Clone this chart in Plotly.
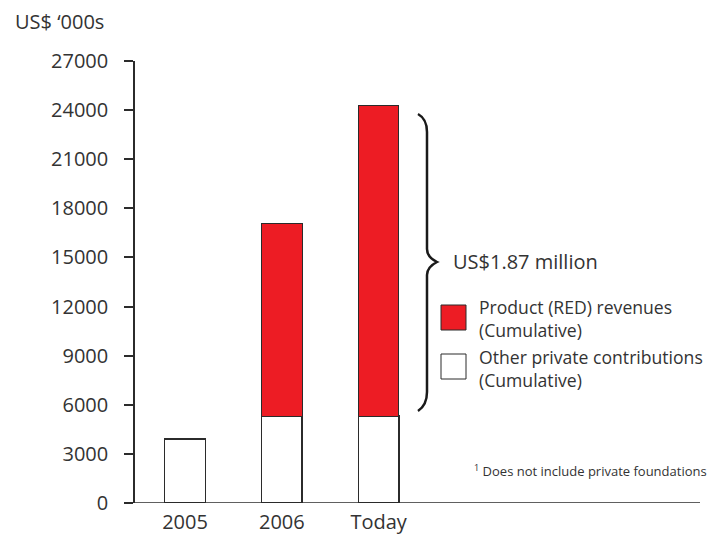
import plotly.graph_objects as go

categories = ["2005", "2006", "Today"]
other_private = [3900, 5300, 5300]
red_revenues = [None, 11800, 19000]
y_ticks = [0, 3000, 6000, 9000, 12000, 15000, 18000, 21000, 24000, 27000]

W, H = 723, 538
ML, MR, MT, MB = 135, 23, 61, 35
PW, PH = W - ML - MR, H - MT - MB

def px(x):
    return (x - ML) / PW

def py(y):
    return (H - MB - y) / PH

FONT = "Open Sans"
TXT = "#333333"
EDGE = "#2b2b2b"
RED = "#ED1C24"

xpos = list(range(len(categories)))

fig = go.Figure()
fig.add_trace(go.Bar(x=xpos, y=other_private, width=0.42,
                     marker=dict(color="white", line=dict(color=EDGE, width=1.5)),
                     showlegend=False))
fig.add_trace(go.Bar(x=xpos, y=red_revenues, width=0.42,
                     marker=dict(color=RED, line=dict(color=EDGE, width=1)),
                     showlegend=False))

# brace path in pixel space -> paper
pts = [("M", [(418, 114)]), ("Q", [(427, 119), (427, 132)]), ("L", [(427, 249)]),
       ("Q", [(427, 257), (437, 262)]), ("Q", [(427, 267), (427, 275)]),
       ("L", [(427, 392)]), ("Q", [(427, 405), (418, 411)])]
path = ""
for cmd, cs in pts:
    path += cmd + " " + " ".join(f"{px(a):.5f},{py(b):.5f}" for a, b in cs) + " "

shapes = [
    dict(type="path", xref="paper", yref="paper", path=path,
         line=dict(color="#1a1a1a", width=2.5)),
    # x axis baseline
    dict(type="line", xref="paper", yref="y", x0=px(126), x1=1, y0=0, y1=0,
         line=dict(color=EDGE, width=1.5)),
    # legend squares
    dict(type="rect", xref="paper", yref="paper", x0=px(441), x1=px(466),
         y0=py(330), y1=py(305), fillcolor=RED, line=dict(color=EDGE, width=1)),
    dict(type="rect", xref="paper", yref="paper", x0=px(441), x1=px(466),
         y0=py(379), y1=py(354), fillcolor="white", line=dict(color=EDGE, width=1)),
]

def ann(text, x, y, size, xanchor="left"):
    return dict(text=text, xref="paper", yref="paper", x=px(x), y=py(y),
                xanchor=xanchor, yanchor="middle", align="left", showarrow=False,
                font=dict(family=FONT, size=size, color=TXT))

annotations = [
    ann("US$ ‘000s", 13, 21, 20),
    ann("US$1.87 million", 451, 261, 20),
    ann("Product (RED) revenues<br>(Cumulative)", 477, 319, 17.6),
    ann("Other private contributions<br>(Cumulative)", 477, 368, 17.6),
    ann("<sup>1</sup> Does not include private foundations", 472, 470, 13),
]

fig.update_layout(
    width=W, height=H,
    margin=dict(l=ML, r=MR, t=MT, b=MB),
    paper_bgcolor="white", plot_bgcolor="white",
    barmode="stack",
    shapes=shapes, annotations=annotations,
    font=dict(family=FONT, color=TXT),
    xaxis=dict(range=[-0.517, -0.517 + PW / 96.8], tickvals=xpos, ticktext=categories,
               showline=False, showgrid=False, zeroline=False, ticks="", automargin=False,
               tickfont=dict(family=FONT, size=20, color=TXT), ticklabelstandoff=5),
    yaxis=dict(range=[0, 27000], tickvals=y_ticks, ticktext=[str(v) for v in y_ticks],
               showline=True, linecolor=EDGE, linewidth=1.5, showgrid=False, automargin=False,
               zeroline=False, ticks="outside", ticklen=9, tickwidth=1.5, tickcolor=EDGE,
               tickfont=dict(family=FONT, size=20, color=TXT), ticklabelstandoff=12),
)

fig.write_html("out.html")
